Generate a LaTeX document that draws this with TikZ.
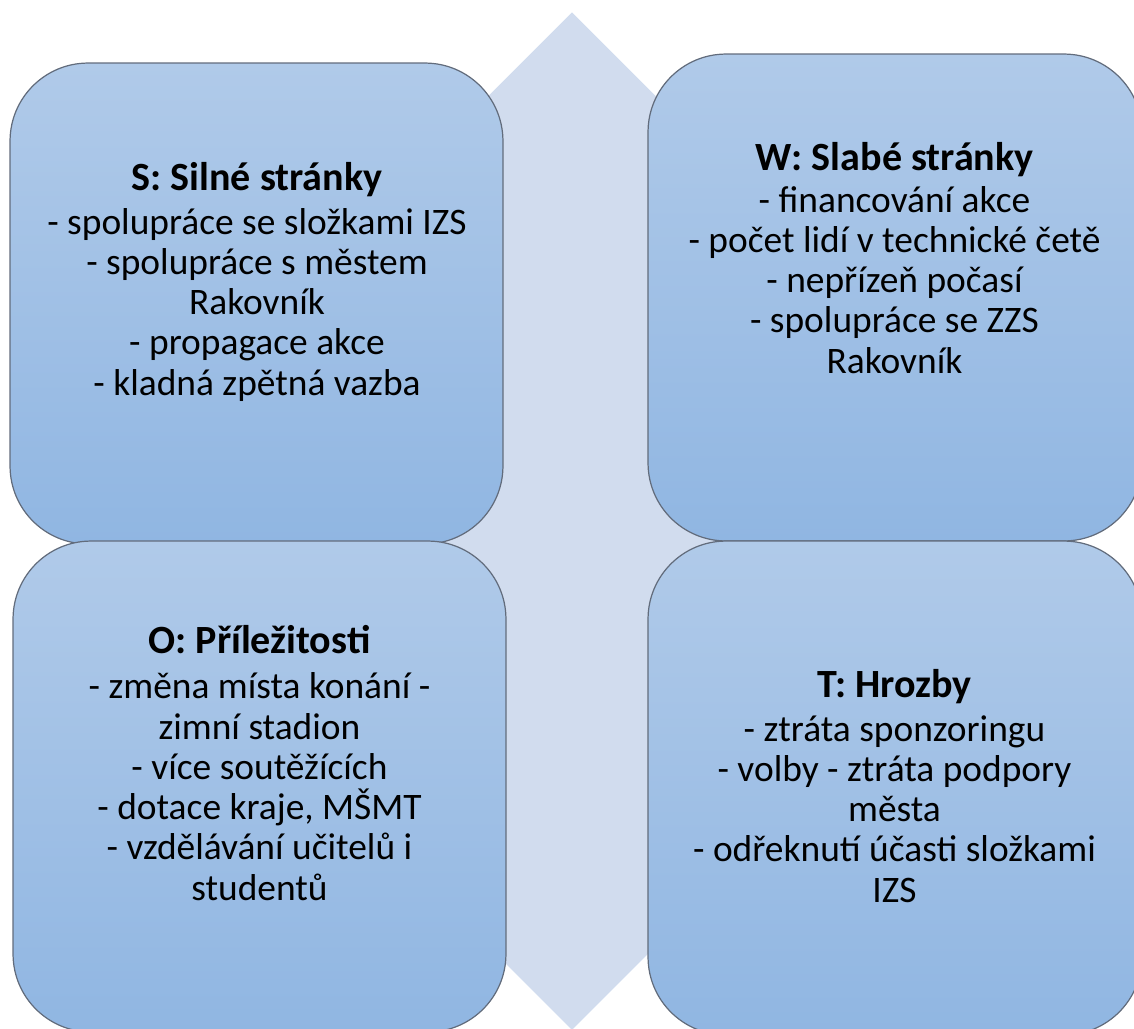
\documentclass[tikz,border=0pt]{standalone}
\usepackage{fontspec}
\setmainfont{Carlito}
\usetikzlibrary{shapes.geometric}
\definecolor{quadTop}{RGB}{176,202,233}
\definecolor{quadBottom}{RGB}{144,182,226}
\definecolor{quadEdge}{RGB}{98,108,124}
\definecolor{diamondFill}{RGB}{209,220,238}
\newcommand{\quadtitle}[1]{{\fontsize{22.8}{23}\selectfont\bfseries #1}}

\begin{document}
\begin{tikzpicture}[
    x=0.02cm, y=-0.02cm,
    % Styles
    quad/.style={
        draw=quadEdge, line width=0.7pt, rounded corners=1.56cm, top color=quadTop, bottom color=quadBottom,
        inner sep=0pt, outer sep=0pt
    },
    % anchored at the baseline of the last line
    quadtext/.style={
        align=center, anchor=base, inner sep=0pt, font=\fontsize{21.3}{22.9}\selectfont
    },
    backdrop/.style={
        diamond, aspect=1, fill=diamondFill, inner sep=0pt, minimum width=20.36cm, minimum height=20.36cm
    }
]
    \useasboundingbox (0,0) rectangle (1134,1029);
    \clip (0,0) rectangle (1134,1029);

    % --- 1. Background diamond ---
    \node[backdrop] (center) at (572,521) {};

    % --- 2. The four quadrants ---
    \node[quad, minimum width=9.86cm, minimum height=9.62cm] (S) at (256.5,303.5) {};
    \node[quad, minimum width=9.88cm, minimum height=9.74cm] (W) at (895,297.5) {};
    \node[quad, minimum width=9.86cm, minimum height=9.82cm] (O) at (259.5,786.5) {};
    \node[quad, minimum width=9.88cm, minimum height=9.88cm] (T) at (895,788) {};

    % --- 3. Texts ---
    \node[quadtext] (Stext) at (257,395) {\quadtitle{S: Silné stránky}\\[0.06cm]
        - spolupráce se složkami IZS\\- spolupráce s městem\\Rakovník\\- propagace akce\\- kladná zpětná vazba};
    \node[quadtext] (Wtext) at (894.5,373) {\quadtitle{W: Slabé stránky}\\[0.02cm]
        - financování akce\\- počet lidí v technické četě\\- nepřízeň počasí\\- spolupráce se ZZS\\Rakovník};
    \node[quadtext] (Otext) at (259.5,900) {\quadtitle{O: Příležitosti}\\[0.1cm]
        - změna místa konání -\\zimní stadion\\- více soutěžících\\- dotace kraje, MŠMT\\- vzdělávání učitelů i\\studentů};
    \node[quadtext] (Ttext) at (894.5,902) {\quadtitle{T: Hrozby}\\[0.06cm]
        - ztráta sponzoringu\\- volby - ztráta podpory\\města\\- odřeknutí účasti složkami\\IZS};

\end{tikzpicture}
\end{document}
